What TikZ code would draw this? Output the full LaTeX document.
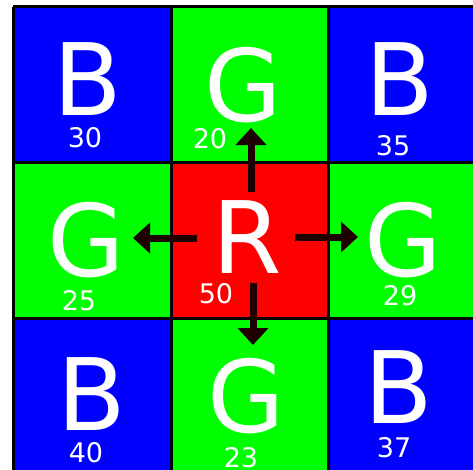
\documentclass[tikz,border=0pt]{standalone}
\usepackage{fontspec}
\setmainfont{DejaVu Sans}
\usetikzlibrary{arrows.meta}
\definecolor{cb}{RGB}{0,0,255}
\definecolor{cg}{RGB}{0,255,0}
\definecolor{cr}{RGB}{255,0,0}
\definecolor{arr}{RGB}{30,0,0}
\begin{document}
\begin{tikzpicture}[x=1pt,y=-1pt,
  big/.style={text=white,font=\fontsize{100}{100}\selectfont,inner sep=0pt,anchor=base,text height=0.73em,text depth=0pt},
  num/.style={text=white,font=\fontsize{27}{27}\selectfont,inner sep=0pt,anchor=base,text height=0.73em,text depth=0pt},
  grid line/.style={line width=3pt,black},
  arrowline/.style={line width=7pt,arr,-{Triangle[width=30pt,length=17pt]}}]
\useasboundingbox (0,0) rectangle (473,469);
\fill[white] (0,0) rectangle (473,469);
\begin{scope}
\clip (0,0) rectangle (473,469);
% cells
\fill[cb] (13,6.5) rectangle (171,162);
\fill[cg] (171,6.5) rectangle (328,162);
\fill[cb] (328,6.5) rectangle (490,162);
\fill[cg] (13,162) rectangle (171,318);
\fill[cr] (171,162) rectangle (328,318);
\fill[cg] (328,162) rectangle (490,318);
\fill[cb] (13,318) rectangle (171,480);
\fill[cg] (171,318) rectangle (328,480);
\fill[cb] (328,318) rectangle (490,480);
% grid
\draw[grid line] (13,6.5) -- (490,6.5);
\draw[grid line] (13,162) -- (490,162);
\draw[grid line] (13,318) -- (490,318);
\draw[grid line] (13,6.5) -- (13,480);
\draw[grid line] (171,6.5) -- (171,480);
\draw[grid line] (328,6.5) -- (328,480);
\end{scope}
% letters
\node[big] (b1) at (88,115) {B};
\node[big] (g1) at (243,121) {G};
\node[big] (b2) at (400,115) {B};
\node[big] (g2) at (86,276) {G};
\node[big] (r) at (247,273) {R};
\node[big] (g3) at (403,276) {G};
\node[big] (b3) at (92,430) {B};
\node[big] (g4) at (246,432) {G};
\node[big] (b4) at (399,423) {B};
% numbers
\node[num] (n30) at (85,147) {30};
\node[num] (n20) at (210,148) {20};
\node[num] (n35) at (393,155) {35};
\node[num] (n25) at (79,310) {25};
\node[num] (n50) at (216,303) {50};
\node[num] (n29) at (400,305) {29};
\node[num] (n40) at (86,462) {40};
\node[num] (n23) at (241,467) {23};
\node[num] (n37) at (394,457) {37};
% arrows
\coordinate (us) at (251,192); \coordinate (ue) at (251,128);
\coordinate (ls) at (197,238); \coordinate (le) at (133,238);
\coordinate (rs) at (295,237); \coordinate (re) at (358,237);
\coordinate (ds) at (253,283); \coordinate (de) at (253,345);
\draw[arrowline] (us) -- (ue);
\draw[arrowline] (ls) -- (le);
\draw[arrowline] (rs) -- (re);
\draw[arrowline] (ds) -- (de);
\end{tikzpicture}
\end{document}
